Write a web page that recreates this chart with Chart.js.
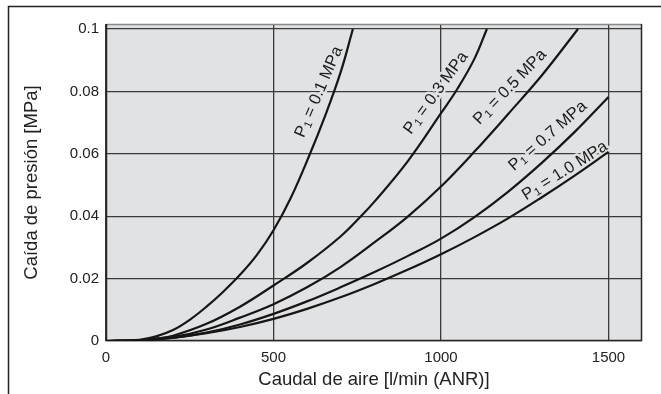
<!DOCTYPE html>
<html>
<head>
<meta charset="utf-8">
<script src="https://cdn.jsdelivr.net/npm/chart.js@4.4.0/dist/chart.umd.min.js"></script>
<style>
  html, body { margin: 0; padding: 0; background: #fff; }
</style>
</head>
<body>
<canvas id="dropChart" width="661" height="394"></canvas>
<script>
    // Curves: flow [l/min (ANR)] vs pressure drop [MPa]
    const flow01 = [0, 100, 150, 200, 250, 300, 350, 400, 450, 500, 550, 609, 650, 700, 737];
    const drop01 = [0, 0.0004, 0.0015, 0.0035, 0.0068, 0.011, 0.0158, 0.0212, 0.0275, 0.0355, 0.0455, 0.06, 0.071, 0.086, 0.1];

    const flow03 = [0, 100, 150, 200, 300, 400, 500, 600, 700, 761, 800, 900, 1000, 1050, 1100, 1137];
    const drop03 = [0, 0.0003, 0.0008, 0.0017, 0.0055, 0.011, 0.0178, 0.025, 0.0335, 0.04, 0.0445, 0.0575, 0.073, 0.081, 0.0905, 0.1];

    const flow05 = [0, 100, 200, 300, 400, 500, 600, 700, 800, 900, 1000, 1100, 1200, 1300, 1409];
    const drop05 = [0, 0.0003, 0.0013, 0.0037, 0.0075, 0.0118, 0.0172, 0.0237, 0.0315, 0.0398, 0.0495, 0.0607, 0.0727, 0.085, 0.1];

    const flow07 = [0, 100, 200, 300, 400, 500, 600, 700, 800, 900, 1000, 1100, 1200, 1300, 1400, 1500];
    const drop07 = [0, 0.0002, 0.001, 0.0027, 0.0053, 0.0087, 0.0127, 0.0172, 0.022, 0.0272, 0.0328, 0.0397, 0.0478, 0.057, 0.0671, 0.0782];

    const flow10 = [0, 100, 200, 300, 400, 500, 600, 700, 800, 900, 1000, 1100, 1200, 1300, 1400, 1500];
    const drop10 = [0, 0.0002, 0.0011, 0.0025, 0.0045, 0.0071, 0.0103, 0.014, 0.0182, 0.0228, 0.0278, 0.0333, 0.0393, 0.046, 0.0531, 0.0606];

    const inletPressures = ['0.1', '0.3', '0.5', '0.7', '1.0'];
    const xTicks = [0, 500, 1000, 1500];
    const yTicks = [0, 0.02, 0.04, 0.06, 0.08, 0.1];

    const seriesFlow = [flow01, flow03, flow05, flow07, flow10];
    const seriesDrop = [drop01, drop03, drop05, drop07, drop10];

    // where each "P1 = ..." label sits (data coords) and its slant
    const labelSpots = [
        { x: 636, y: 0.0798, angle: -66.5 },
        { x: 985, y: 0.0795, angle: -54 },
        { x: 1206, y: 0.0814, angle: -46 },
        { x: 1319, y: 0.0657, angle: -41 },
        { x: 1370, y: 0.0545, angle: -32 }
    ];

    const FONT = '"Liberation Sans", Arial, Helvetica, sans-serif';
    const PLOT_BG = '#e1e2e4';
    const GRID = '#3a3a3a';

    const datasets = seriesFlow.map((fl, i) => ({
        label: 'P1 = ' + inletPressures[i] + ' MPa',
        data: fl.map((x, j) => ({ x: x, y: seriesDrop[i][j] })),
        showLine: true,
        borderColor: '#161616',
        borderWidth: 2.2,
        pointRadius: 0,
        tension: 0.4,
        fill: false
    }));

    const backdrop = {
        id: 'backdrop',
        beforeDraw(chart) {
            const { ctx, chartArea: a } = chart;
            ctx.save();
            ctx.fillStyle = PLOT_BG;
            ctx.fillRect(a.left, a.top, a.right - a.left, a.bottom - a.top);
            // outer frame (top + left only)
            ctx.strokeStyle = '#222';
            ctx.lineWidth = 1.5;
            ctx.beginPath();
            ctx.moveTo(661, 6.5);
            ctx.lineTo(8.5, 6.5);
            ctx.lineTo(8.5, 394);
            ctx.stroke();
            ctx.restore();
        }
    };

    function drawPLabel(ctx, p, cx, cy, angle) {
        const big = '16.5px ' + FONT;
        const small = '11px ' + FONT;
        ctx.save();
        ctx.translate(cx, cy);
        ctx.rotate(angle * Math.PI / 180);
        ctx.textBaseline = 'middle';
        ctx.textAlign = 'left';
        const rest = ' = ' + p + ' MPa';
        ctx.font = big;
        const wP = ctx.measureText('P').width;
        const wR = ctx.measureText(rest).width;
        ctx.font = small;
        const w1 = ctx.measureText('1').width;
        const x0 = -(wP + w1 + wR) / 2;
        ['halo', 'ink'].forEach(pass => {
            if (pass === 'halo') {
                ctx.strokeStyle = PLOT_BG;
                ctx.lineWidth = 5;
                ctx.lineJoin = 'round';
            } else {
                ctx.fillStyle = '#1c1c1c';
            }
            const put = (t, x, y) => pass === 'halo' ? ctx.strokeText(t, x, y) : ctx.fillText(t, x, y);
            ctx.font = big;
            put('P', x0, 0);
            ctx.font = small;
            put('1', x0 + wP + 0.5, 3.5);
            ctx.font = big;
            put(rest, x0 + wP + w1, 0);
        });
        ctx.restore();
    }

    const curveLabels = {
        id: 'curveLabels',
        beforeDatasetsDraw(chart) {
            const { ctx, chartArea: a, scales } = chart;
            // plot box
            ctx.save();
            ctx.lineWidth = 1.5;
            ctx.strokeStyle = '#8a8a8a';
            ctx.beginPath();
            ctx.moveTo(a.left, a.top + 0.5);
            ctx.lineTo(a.right, a.top + 0.5);
            ctx.stroke();
            ctx.strokeStyle = '#262626';
            ctx.beginPath();
            ctx.moveTo(a.left + 0.5, a.top);
            ctx.lineTo(a.left + 0.5, a.bottom - 0.5);
            ctx.lineTo(a.right - 0.5, a.bottom - 0.5);
            ctx.lineTo(a.right - 0.5, a.top);
            ctx.stroke();
            ctx.restore();

            labelSpots.forEach((s, i) => {
                drawPLabel(ctx, inletPressures[i],
                    scales.x.getPixelForValue(s.x),
                    scales.y.getPixelForValue(s.y), s.angle);
            });
        }
    };

    const ctx = document.getElementById('dropChart').getContext('2d');
    const dropChart = new Chart(ctx, {
        type: 'scatter',
        data: { datasets: datasets },
        options: {
            responsive: false,
            animation: false,
            layout: { padding: { top: 24, right: 19, left: 0, bottom: 0 } },
            plugins: {
                legend: { display: false },
                tooltip: { enabled: false }
            },
            scales: {
                x: {
                    type: 'linear',
                    min: 0,
                    max: 1600,
                    afterBuildTicks: s => { s.ticks = xTicks.map(v => ({ value: v })); },
                    afterFit: s => { s.height = 53; },
                    grid: { color: GRID, lineWidth: 1.3, drawTicks: false },
                    border: { display: false },
                    ticks: {
                        padding: 8,
                        color: '#222',
                        font: { family: FONT, size: 15 },
                        maxRotation: 0,
                        callback: v => String(v)
                    },
                    title: {
                        display: true,
                        text: 'Caudal de aire [l/min (ANR)]',
                        color: '#222',
                        font: { family: FONT, size: 18.5 },
                        padding: { top: 0, bottom: 3 }
                    }
                },
                y: {
                    type: 'linear',
                    min: 0,
                    max: 0.1016,
                    afterBuildTicks: s => { s.ticks = yTicks.map(v => ({ value: v })); },
                    afterFit: s => { s.width = 106; },
                    grid: { color: GRID, lineWidth: 1.3, drawTicks: false },
                    border: { display: false },
                    ticks: {
                        padding: 7,
                        color: '#222',
                        font: { family: FONT, size: 15 },
                        callback: v => v === 0 ? '0' : String(Number(v.toFixed(2)))
                    },
                    title: {
                        display: true,
                        text: 'Caída de presión [MPa]',
                        color: '#222',
                        font: { family: FONT, size: 18.5 },
                        padding: { top: 21, bottom: 0 }
                    }
                }
            }
        },
        plugins: [backdrop, curveLabels]
    });
</script>
</body>
</html>
